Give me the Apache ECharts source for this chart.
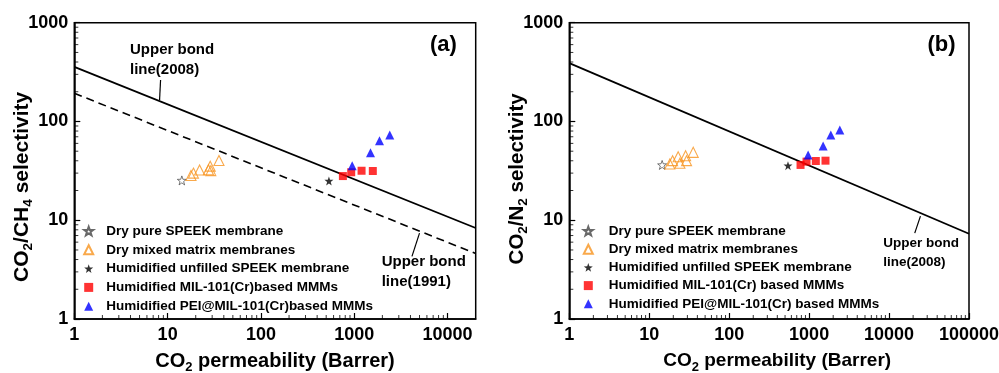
<!DOCTYPE html>
<html><head><meta charset="utf-8">
<script src="https://cdn.jsdelivr.net/npm/echarts@6/dist/echarts.min.js"></script>
<style>html,body{margin:0;padding:0;background:#fff}#c{width:999px;height:373px}</style>
</head><body><div id="c"></div>
<script>
// ---------------- data ----------------
// Panel (a): CO2/CH4
const dryPureA = [[14.2, 25.3]];
const dryMMMA = [[17.8, 28.4], [18.9, 30.0], [22.0, 32.2], [27.4, 32.5], [28.6, 35.3], [29.0, 31.8], [35.5, 40.3]];
const humUnfilledA = [[535, 25.0]];
const milA = [[755, 28.0], [927, 30.6], [1197, 31.7], [1580, 31.5]];
const peiA = [[950, 35.7], [1493, 48.3], [1862, 63.9], [2399, 72.9]];
const bound2008A = [[1, 357], [20000, 8.35]];
const bound1991A = [[1, 193], [20000, 4.6]];
const leader2008A = [[8.4, 263], [8.2, 165]];
const leader1991A = [[5000, 7.4], [4150, 4.3]];

// Panel (b): CO2/N2
const dryPureB = [[14.5, 36.3]];
const dryMMMB = [[18.1, 37.1], [19.6, 40.1], [23.0, 44.0], [24.2, 37.7], [28.5, 45.0], [29.3, 40.1], [35.5, 48.7]];
const humUnfilledB = [[544, 35.7]];
const milB = [[781, 36.3], [928, 39.2], [1213, 39.8], [1603, 40.1]];
const peiB = [[972, 45.8], [1496, 56.4], [1867, 72.9], [2421, 82.0]];
const bound2008B = [[1, 390], [100000, 7.3]];
const leader2008B = [[24700, 11], [20950, 7.4]];

// axis ranges
const xRangeA = [1, 20000];
const xRangeB = [1, 100000];
const yRange = [1, 1000];

// minor tick values
const minorXA = [2, 3, 4, 5, 6, 7, 8, 9, 20, 30, 40, 50, 60, 70, 80, 90,
  200, 300, 400, 500, 600, 700, 800, 900, 2000, 3000, 4000, 5000, 6000, 7000, 8000, 9000];
const minorXB = [2, 3, 4, 5, 6, 7, 8, 9, 20, 30, 40, 50, 60, 70, 80, 90,
  200, 300, 400, 500, 600, 700, 800, 900, 2000, 3000, 4000, 5000, 6000, 7000, 8000, 9000,
  20000, 30000, 40000, 50000, 60000, 70000, 80000, 90000];
const minorY = [2, 3, 4, 5, 6, 7, 8, 9, 20, 30, 40, 50, 60, 70, 80, 90, 200, 300, 400, 500, 600, 700, 800, 900];

// legend labels
const namesA = ['Dry pure SPEEK membrane', 'Dry mixed matrix membranes', 'Humidified unfilled SPEEK membrane',
  'Humidified MIL-101(Cr)based MMMs', 'Humidified PEI@MIL-101(Cr)based MMMs'];
const namesB = ['Dry pure SPEEK membrane', 'Dry mixed matrix membranes', 'Humidified unfilled SPEEK membrane',
  'Humidified MIL-101(Cr) based MMMs', 'Humidified PEI@MIL-101(Cr) based MMMs'];

// ---------------- styling ----------------
const FF = 'Liberation Sans, Arial, Helvetica, sans-serif';
const STAR = 'path://M10,0 L12.35,6.76 L19.51,6.91 L13.8,11.24 L15.88,18.09 L10,14 L4.12,18.09 L6.2,11.24 L0.49,6.91 L7.65,6.76 Z';
const ORANGE = '#f7931e';

function mkRich(fs, sfs) {
  return {
    n: { fontSize: fs, fontWeight: 'bold', fontFamily: FF, color: '#000', lineHeight: 26 },
    s: { fontSize: sfs, fontWeight: 'bold', fontFamily: FF, color: '#000', verticalAlign: 'bottom' }
  };
}

function xAxisCfg(grid, range, showMax, fs, pad) {
  return {
    type: 'log', logBase: 10, gridIndex: grid, min: range[0], max: range[1],
    name: '{n|CO}{s|2}{n| permeability (Barrer)}', nameLocation: 'middle', nameGap: 29,
    nameMoveOverlap: false,
    nameTextStyle: { rich: mkRich(fs, 13), padding: pad },
    axisLine: { lineStyle: { color: '#000', width: 1.5 } },
    axisTick: { inside: true, length: 6, lineStyle: { color: '#000', width: 1.2 } },
    minorTick: { show: false },
    splitLine: { show: false }, minorSplitLine: { show: false },
    axisLabel: { fontSize: 18, fontWeight: 'bold', fontFamily: FF, color: '#000', margin: 7,
      showMaxLabel: showMax, formatter: v => String(Math.round(v)) }
  };
}
function yAxisCfg(grid, nameStr, fs, pad) {
  return {
    type: 'log', logBase: 10, gridIndex: grid, min: yRange[0], max: yRange[1],
    name: nameStr, nameLocation: 'middle', nameGap: 39,
    nameMoveOverlap: false,
    nameTextStyle: { rich: mkRich(fs, 13.5), padding: pad },
    axisLine: { lineStyle: { color: '#000', width: 1.5 } },
    axisTick: { inside: true, length: 6, lineStyle: { color: '#000', width: 1.2 } },
    minorTick: { show: false },
    splitLine: { show: false }, minorSplitLine: { show: false },
    axisLabel: { fontSize: 18, fontWeight: 'bold', fontFamily: FF, color: '#000', margin: 6,
      formatter: v => String(Math.round(v)) }
  };
}

// minor ticks: thin rect symbols placed on the axes through the library's scales
function minorTicks(g, vals, dir, fixed) {
  return {
    type: 'scatter', xAxisIndex: g, yAxisIndex: g, silent: true, z: 4, clip: false,
    data: vals.map(v => dir === 'x' ? [v, fixed] : [fixed, v]),
    symbol: 'rect',
    symbolSize: dir === 'x' ? [1, 4] : [4, 1],
    symbolOffset: dir === 'x' ? [0, -2] : [2, 0],
    itemStyle: { color: '#000' }
  };
}

function scatterSet(g, data, names) {
  const [dp, dm, hu, mil, pei] = data;
  return [
    { name: names[0], type: 'scatter', xAxisIndex: g, yAxisIndex: g, data: dp, symbol: STAR, symbolSize: 9,
      itemStyle: { color: '#fff', borderColor: '#444', borderWidth: 0.9 }, z: 5 },
    { name: names[1], type: 'scatter', xAxisIndex: g, yAxisIndex: g, data: dm, symbol: 'triangle', symbolSize: 10,
      itemStyle: { color: 'rgba(255,255,255,0)', borderColor: ORANGE, borderWidth: 1.1 }, z: 5 },
    { name: names[2], type: 'scatter', xAxisIndex: g, yAxisIndex: g, data: hu, symbol: STAR, symbolSize: 9,
      itemStyle: { color: '#000' }, z: 5 },
    { name: names[3], type: 'scatter', xAxisIndex: g, yAxisIndex: g, data: mil, symbol: 'rect', symbolSize: 8,
      itemStyle: { color: '#ff0000' }, z: 5 },
    { name: names[4], type: 'scatter', xAxisIndex: g, yAxisIndex: g, data: pei, symbol: 'triangle', symbolSize: 9,
      itemStyle: { color: '#0000ff' }, z: 5 }
  ];
}
function lineS(g, data, type, width) {
  return { type: 'line', xAxisIndex: g, yAxisIndex: g, data: data, symbol: 'none', silent: true,
    lineStyle: { color: '#000', width: width, type: type }, z: 3 };
}
function legendCfg(names, left, top, padLeft, gap) {
  return {
    data: names.map(n => ({ name: n })), orient: 'vertical', left: left, top: top,
    itemWidth: 9, itemHeight: 9, itemGap: gap, padding: 0, selectedMode: false,
    textStyle: { fontSize: 13.5, fontWeight: 'bold', fontFamily: FF, color: '#000', lineHeight: 14,
      padding: [0, 0, 0, padLeft] }
  };
}
function annot(text, left, top, lh, fs) {
  return { type: 'text', left: left, top: top, z: 10,
    style: { text: text, font: 'bold ' + fs + 'px ' + FF, fill: '#000', lineHeight: lh } };
}

const option = {
  backgroundColor: '#fff',
  animation: false,
  grid: [
    { left: 74.3, width: 401.4, top: 22.7, height: 296.3, show: true, borderColor: '#000', borderWidth: 1.5,
      containLabel: false, outerBoundsMode: 'none' },
    { left: 569.3, width: 399.7, top: 22.7, height: 296.3, show: true, borderColor: '#000', borderWidth: 1.5,
      containLabel: false, outerBoundsMode: 'none' }
  ],
  xAxis: [xAxisCfg(0, xRangeA, false, 20, 0), xAxisCfg(1, xRangeB, true, 19, [0, 0, 0, 16])],
  yAxis: [
    yAxisCfg(0, '{n|CO}{s|2}{n|/CH}{s|4}{n| selectivity}', 21, [0, 32, 0, 0]),
    yAxisCfg(1, '{n|CO}{s|2}{n|/N}{s|2}{n| selectivity}', 20.5, [0, 16, 0, 0])
  ],
  legend: [legendCfg(namesA, 83.2, 224, 8, 4.8), legendCfg(namesB, 582.8, 224, 11, 4.2)],
  graphic: [
    annot('Upper bond\nline(2008)', 130, 40.5, 19.3, 15),
    annot('Upper bond\nline(1991)', 381.7, 251.7, 20, 15),
    annot('Upper bond\nline(2008)', 883.3, 234, 19, 13.5),
    { type: 'text', left: 430, top: 34, z: 10, style: { text: '(a)', font: 'bold 22px ' + FF, fill: '#000' } },
    { type: 'text', left: 927.5, top: 34, z: 10, style: { text: '(b)', font: 'bold 22px ' + FF, fill: '#000' } }
  ],
  series: [
    lineS(0, bound2008A, 'solid', 1.8),
    lineS(0, bound1991A, [8, 5], 1.6),
    lineS(0, leader2008A, 'solid', 1.2),
    lineS(0, leader1991A, 'solid', 1.2),
    lineS(1, bound2008B, 'solid', 1.8),
    lineS(1, leader2008B, 'solid', 1.2),
    minorTicks(0, minorXA, 'x', yRange[0]),
    minorTicks(0, minorY, 'y', xRangeA[0]),
    minorTicks(1, minorXB, 'x', yRange[0]),
    minorTicks(1, minorY, 'y', xRangeB[0]),
    ...scatterSet(0, [dryPureA, dryMMMA, humUnfilledA, milA, peiA], namesA),
    ...scatterSet(1, [dryPureB, dryMMMB, humUnfilledB, milB, peiB], namesB)
  ]
};
const chart = echarts.init(document.getElementById('c'), null, { renderer: 'canvas' });
chart.setOption(option);
</script></body></html>
